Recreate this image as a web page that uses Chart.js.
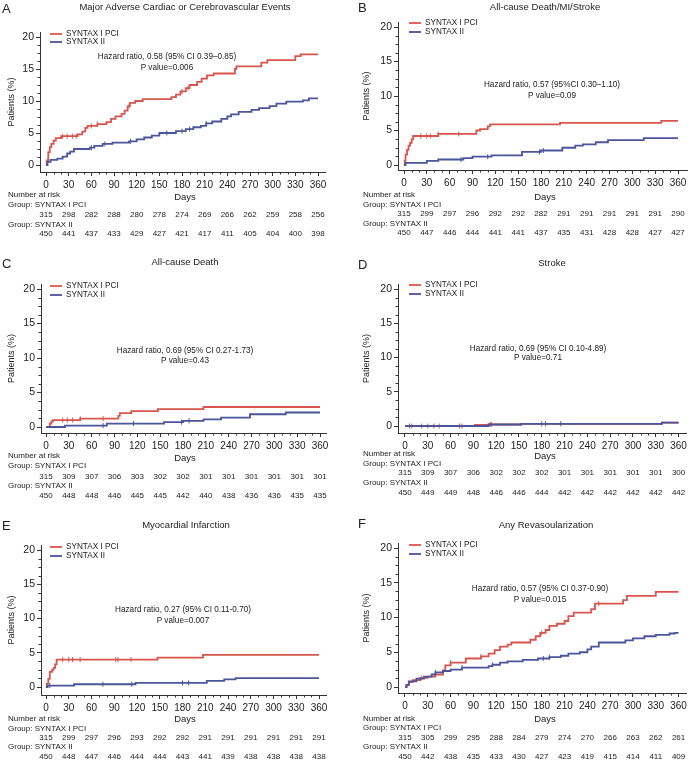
<!DOCTYPE html>
<html lang="en">
<head>
<meta charset="UTF-8">
<title>SYNTAX I PCI vs SYNTAX II - one-year outcomes</title>
<script src="https://cdn.jsdelivr.net/npm/chart.js"></script>
<style>
  body { margin: 0; background: #fff; font-family: 'Liberation Sans', Arial, sans-serif; color: #222; }
  #page { position: relative; width: 690px; height: 763px; overflow: hidden; }
  .panel { position: absolute; width: 345px; }
  .panel canvas { position: absolute; left: 0; top: 0; }
  .t { position: absolute; white-space: nowrap; line-height: 1; }
  .c { transform: translate(-50%, -50%); }
  .l { transform: translateY(-50%); }
  .letter { font-size: 13px; }
  .title { font-size: 9.5px; }
  .hr, .leg { font-size: 8.2px; }
  .risk { font-size: 8px; }
  .days { font-size: 9.5px; }
  .legline { position: absolute; width: 12px; height: 0; border-top: 2px solid; }
</style>
</head>
<body>
<div id="page"></div>
<script>
  // x axis ticks (days) and y axis ticks (%)
  const dayTicks = [0, 30, 60, 90, 120, 150, 180, 210, 240, 270, 300, 330, 360];
  const pctTicks = [0, 5, 10, 15, 20];
  const groupNames = ['SYNTAX I PCI', 'SYNTAX II'];

  // cumulative event rate, [day, %] from that day on
  // A - MACCE
  const maccePci = [[0,0],[1,0.7],[3,2.0],[5,2.8],[7,3.3],[10,3.8],[13,4.2],[20,4.5],[42,4.8],[48,5.2],[52,5.8],[55,6.1],[68,6.4],[80,6.7],[86,7.2],[92,7.6],[100,8.0],[104,8.5],[108,9.2],[111,9.7],[118,10.0],[128,10.3],[166,10.6],[172,11.0],[178,11.5],[185,12.0],[190,12.5],[200,13.0],[206,13.5],[213,14.0],[222,14.3],[250,15.0],[252,15.4],[285,16.0],[293,16.4],[330,17.0],[337,17.3],[360,17.3]];
  const macceS2 = [[0,0],[2,0.5],[6,0.8],[15,1.0],[22,1.3],[28,1.8],[32,2.1],[37,2.5],[58,2.7],[64,3.0],[75,3.3],[88,3.5],[110,3.7],[120,4.0],[130,4.3],[140,4.6],[150,5.0],[172,5.3],[185,5.6],[195,5.9],[205,6.1],[212,6.5],[220,6.8],[232,7.2],[240,7.6],[245,7.9],[255,8.3],[272,8.6],[282,8.9],[296,9.2],[305,9.6],[318,9.9],[340,10.1],[348,10.4],[360,10.4]];
  const macceRiskPci = [315, 298, 282, 288, 280, 278, 274, 269, 266, 262, 259, 258, 256];
  const macceRiskS2 = [450, 441, 437, 433, 429, 427, 421, 417, 411, 405, 404, 400, 398];
  const macceCensorPci = [22, 28, 35, 40, 60, 68, 110, 180, 188];
  const macceCensorS2 = [60, 78, 112, 160, 180, 190, 212];

  // B - death/MI/stroke
  const dmsPci = [[0,0],[1,0.6],[2,1.5],[4,2.2],[6,2.8],[8,3.2],[10,3.7],[12,4.2],[45,4.5],[95,5.0],[100,5.2],[110,5.6],[113,5.9],[205,6.1],[338,6.4],[360,6.4]];
  const dmsS2 = [[0,0],[2,0.3],[30,0.6],[45,0.8],[78,1.0],[90,1.2],[115,1.4],[155,1.9],[180,2.1],[208,2.5],[225,2.8],[235,3.0],[252,3.3],[268,3.6],[315,3.9],[360,3.9]];
  const dmsRiskPci = [315, 299, 297, 296, 292, 292, 282, 291, 291, 291, 291, 291, 290];
  const dmsRiskS2 = [450, 447, 446, 444, 441, 441, 437, 435, 431, 428, 428, 427, 427];
  const dmsCensorPci = [22, 30, 35, 45, 72];
  const dmsCensorS2 = [75, 110, 178, 183];

  // C - all-cause death
  const deathPci = [[0,0],[5,0.5],[7,0.8],[9,1.0],[45,1.2],[95,1.6],[97,2.0],[112,2.3],[147,2.6],[207,2.9],[360,2.9]];
  const deathS2 = [[0,0],[25,0.2],[80,0.5],[155,0.7],[180,0.9],[207,1.1],[230,1.35],[268,1.85],[315,2.1],[360,2.1]];
  const deathRiskPci = [315, 309, 307, 306, 303, 302, 302, 301, 301, 301, 301, 301, 301];
  const deathRiskS2 = [450, 448, 448, 446, 445, 445, 442, 440, 438, 436, 436, 435, 435];
  const deathCensorPci = [22, 28, 35, 45, 75];
  const deathCensorS2 = [75, 115, 178, 188];

  // D - stroke
  const strokePci = [[0,0],[92,0.15],[110,0.22],[153,0.32],[338,0.5],[360,0.5]];
  const strokeS2 = [[0,0],[110,0.22],[153,0.32],[338,0.5],[360,0.5]];
  const strokeRiskPci = [315, 309, 307, 306, 302, 302, 302, 301, 301, 301, 301, 301, 300];
  const strokeRiskS2 = [450, 449, 449, 448, 446, 446, 444, 442, 442, 442, 442, 442, 442];
  const strokeCensorPci = [6, 9, 22, 30, 38, 45, 72, 75, 112, 114];
  const strokeCensorS2 = [180, 185, 205];

  // E - myocardial infarction
  const miPci = [[0,0],[1,0.5],[3,1.2],[5,2.2],[8,2.5],[10,2.8],[12,3.3],[14,4.0],[147,4.3],[207,4.7],[360,4.7]];
  const miS2 = [[0,0],[2,0.2],[37,0.4],[118,0.6],[212,0.9],[235,1.1],[250,1.3],[360,1.3]];
  const miRiskPci = [315, 299, 297, 296, 293, 292, 292, 291, 291, 291, 291, 291, 291];
  const miRiskS2 = [450, 448, 447, 446, 444, 444, 443, 441, 439, 438, 438, 438, 438];
  const miCensorPci = [22, 30, 35, 45, 92, 95, 112];
  const miCensorS2 = [5, 75, 113, 180, 188];

  // F - any revascularization
  const revascPci = [[0,0],[2,0.3],[5,0.7],[10,1.0],[20,1.3],[30,1.5],[40,1.8],[50,2.4],[53,3.1],[60,3.5],[80,4.1],[100,4.4],[110,4.8],[118,5.3],[125,5.8],[135,6.1],[140,6.4],[165,6.8],[172,7.3],[178,7.8],[185,8.2],[190,8.8],[200,9.1],[210,9.5],[215,10.2],[222,10.7],[245,11.2],[250,12.0],[287,12.5],[292,13.1],[330,13.7],[360,13.7]];
  const revascS2 = [[0,0],[2,0.3],[5,0.8],[15,1.2],[25,1.5],[35,1.8],[40,2.1],[50,2.3],[60,2.5],[75,2.8],[110,3.0],[115,3.2],[125,3.5],[135,3.7],[155,3.9],[175,4.1],[190,4.3],[205,4.5],[215,4.8],[230,5.0],[240,5.4],[245,5.8],[255,6.4],[290,6.7],[300,7.0],[315,7.3],[330,7.5],[348,7.7],[355,7.8],[360,7.8]];
  const revascRiskPci = [315, 305, 299, 295, 288, 284, 279, 274, 270, 266, 263, 262, 261];
  const revascRiskS2 = [450, 442, 438, 435, 433, 430, 427, 423, 419, 415, 414, 411, 409];
  const revascCensorPci = [22, 60, 100, 180, 255];
  const revascCensorS2 = [40, 75, 115, 182, 190];

  const RED = '#d6554c';
  const BLUE = '#4b5599';

  // panel placement (page px) and local layout
  const panels = [
    { letter: 'A', title: 'Major Adverse Cardiac or Cerebrovascular Events', hr: 'Hazard ratio, 0.58 (95% CI 0.39\u20130.85)', p: 'P value=0.006',
      pci: maccePci, s2: macceS2, riskPci: macceRiskPci, riskS2: macceRiskS2, cPci: macceCensorPci, cS2: macceCensorS2,
      left: 0, top: 0, h: 254,
      L: { ax: 40, px0: 46, px360: 318, right: 325, top: 32, py20: 37, py0: 165, axisY: 172, yTitleX: 12,
           letter: [2, 8], titleC: [185, 7], leg: [50, 34, 42], hr: [167, 57, 68], days: [185, 197], nar: [8, 195, 205, 215, 225, 234] } },
    { letter: 'B', title: 'All-cause Death/MI/Stroke', hr: 'Hazard ratio, 0.57 (95%CI 0.30\u20131.10)', p: 'P value=0.09',
      pci: dmsPci, s2: dmsS2, riskPci: dmsRiskPci, riskS2: dmsRiskS2, cPci: dmsCensorPci, cS2: dmsCensorS2,
      left: 345, top: 0, h: 254,
      L: { ax: 53, px0: 59, px360: 333, right: 342, top: 22, py20: 27, py0: 165, axisY: 170, yTitleX: 22,
           letter: [13, 7], titleC: [200, 7], leg: [64, 23, 32], hr: [207, 85, 96], days: [200, 197], nar: [18, 195, 205, 214, 224, 233] } },
    { letter: 'C', title: 'All-cause Death', hr: 'Hazard ratio, 0.69 (95% CI 0.27-1.73)', p: 'P value=0.43',
      pci: deathPci, s2: deathS2, riskPci: deathRiskPci, riskS2: deathRiskS2, cPci: deathCensorPci, cS2: deathCensorS2,
      left: 0, top: 254, h: 254,
      L: { ax: 41, px0: 46, px360: 320, right: 326, top: 30, py20: 35, py0: 173, axisY: 179, yTitleX: 12,
           letter: [2, 9], titleC: [185, 8], leg: [50, 32, 41], hr: [185, 97, 107], days: [185, 204], nar: [8, 202, 212, 223, 232, 242] } },
    { letter: 'D', title: 'Stroke', hr: 'Hazard ratio, 0.69 (95% CI 0.10-4.89)', p: 'P value=0.71',
      pci: strokePci, s2: strokeS2, riskPci: strokeRiskPci, riskS2: strokeRiskS2, cPci: strokeCensorPci, cS2: strokeCensorS2,
      left: 345, top: 254, h: 254,
      L: { ax: 53, px0: 60, px360: 334, right: 342, top: 30, py20: 35, py0: 172, axisY: 179, yTitleX: 22,
           letter: [13, 10], titleC: [207, 9], leg: [64, 31, 40], hr: [193, 95, 104], days: [200, 202], nar: [18, 200, 210, 219, 229, 239] } },
    { letter: 'E', title: 'Myocardial Infarction', hr: 'Hazard ratio, 0.27 (95% CI 0.11-0.70)', p: 'P value=0.007',
      pci: miPci, s2: miS2, riskPci: miRiskPci, riskS2: miRiskS2, cPci: miCensorPci, cS2: miCensorS2,
      left: 0, top: 508, h: 255,
      L: { ax: 41, px0: 46, px360: 319, right: 326, top: 37, py20: 42, py0: 179, axisY: 187, yTitleX: 12,
           letter: [2, 17], titleC: [186, 17], leg: [50, 39, 48], hr: [183, 102, 113], days: [185, 211], nar: [8, 211, 221, 230, 239, 249] } },
    { letter: 'F', title: 'Any Revasoularization', hr: 'Hazard ratio, 0.57 (95% CI 0.37-0.90)', p: 'P value=0.015',
      pci: revascPci, s2: revascS2, riskPci: revascRiskPci, riskS2: revascRiskS2, cPci: revascCensorPci, cS2: revascCensorS2,
      left: 345, top: 508, h: 255,
      L: { ax: 53, px0: 60, px360: 334, right: 342, top: 35, py20: 40, py0: 179, axisY: 185, yTitleX: 22,
           letter: [13, 15], titleC: [201, 17], leg: [64, 37, 46], hr: [195, 81, 92], days: [200, 211], nar: [18, 211, 220, 230, 239, 249] } }
  ];

  // level of a step curve on a given day (for censoring marks)
  function levelAt(steps, day) {
    let v = 0;
    for (const [d, y] of steps) if (d <= day) v = y;
    return v;
  }

  // small ticks between the labelled ones
  const minorTicks = {
    id: 'minorTicks',
    afterDraw(chart) {
      const { ctx, scales: { x, y } } = chart;
      ctx.save();
      ctx.strokeStyle = '#333';
      ctx.lineWidth = 1;
      ctx.beginPath();
      for (let d = 10; d < 360; d += 10) {
        if (d % 30 === 0) continue;
        const px = Math.round(x.getPixelForValue(d)) + 0.5;
        ctx.moveTo(px, y.bottom);
        ctx.lineTo(px, y.bottom + 2.5);
      }
      for (let v = 1.25; v < 20; v += 1.25) {
        if (v % 5 === 0) continue;
        const py = Math.round(y.getPixelForValue(v)) + 0.5;
        ctx.moveTo(x.left, py);
        ctx.lineTo(x.left - 2.5, py);
      }
      ctx.stroke();
      ctx.restore();
    }
  };

  const page = document.getElementById('page');

  function put(parent, text, x, y, cls) {
    const d = document.createElement('div');
    d.className = 't ' + cls;
    d.style.left = x + 'px';
    d.style.top = y + 'px';
    d.textContent = text;
    parent.appendChild(d);
    return d;
  }

  function makePanel(p) {
    const L = p.L;
    const el = document.createElement('div');
    el.className = 'panel';
    el.style.left = p.left + 'px';
    el.style.top = p.top + 'px';
    el.style.height = p.h + 'px';
    page.appendChild(el);

    const cv = document.createElement('canvas');
    cv.width = 345; cv.height = p.h;
    cv.style.width = '345px'; cv.style.height = p.h + 'px';
    el.appendChild(cv);

    const k = (L.px360 - L.px0) / 360;
    const m = (L.py0 - L.py20) / 20;

    const line = (steps, color, label) => ({
      label: label,
      data: steps.map(([x, y]) => ({ x: x, y: y })),
      borderColor: color,
      borderWidth: 1.8,
      stepped: 'before',
      pointRadius: 0,
      fill: false
    });
    const censor = (days, steps, color) => ({
      data: days.map(d => ({ x: d, y: levelAt(steps, d) })),
      showLine: false,
      pointStyle: 'line',
      rotation: 90,
      pointRadius: 2.5,
      pointBorderWidth: 1,
      pointBorderColor: color,
      borderColor: color
    });

    const chart = new Chart(cv, {
      type: 'line',
      data: {
        datasets: [
          line(p.s2, BLUE, groupNames[1]),
          censor(p.cS2, p.s2, BLUE),
          line(p.pci, RED, groupNames[0]),
          censor(p.cPci, p.pci, RED)
        ]
      },
      options: {
        responsive: false,
        animation: false,
        events: [],
        layout: { autoPadding: false, padding: { left: 0, top: L.top, right: 345 - L.right, bottom: 0 } },
        plugins: { legend: { display: false }, tooltip: { enabled: false } },
        scales: {
          x: {
            type: 'linear',
            min: -(L.px0 - L.ax) / k,
            max: 360 + (L.right - L.px360) / k,
            afterFit: s => { s.height = p.h - L.axisY; },
            afterBuildTicks: s => { s.ticks = dayTicks.map(v => ({ value: v })); },
            grid: { drawOnChartArea: false, tickLength: 4, color: '#333' },
            border: { color: '#333', width: 1 },
            ticks: { autoSkip: false, maxRotation: 0, padding: 3, color: '#222',
                     font: { family: "'Liberation Sans', Arial, sans-serif", size: 10 } }
          },
          y: {
            type: 'linear',
            min: -(L.axisY - L.py0) / m,
            max: 20 + (L.py20 - L.top) / m,
            afterFit: s => { s.width = L.ax; },
            afterBuildTicks: s => { s.ticks = pctTicks.map(v => ({ value: v })); },
            grid: { drawOnChartArea: false, tickLength: 4, color: '#333' },
            border: { color: '#333', width: 1 },
            ticks: { padding: 2, color: '#222',
                     font: { family: "'Liberation Sans', Arial, sans-serif", size: 10.5 } },
            title: { display: true, text: 'Patients (%)', color: '#222',
                     padding: { top: L.yTitleX - 5.4, bottom: 0 },
                     font: { family: "'Liberation Sans', Arial, sans-serif", size: 9 } }
          }
        }
      },
      plugins: [minorTicks]
    });

    // texts
    put(el, p.letter, L.letter[0], L.letter[1], 'l letter');
    put(el, p.title, L.titleC[0], L.titleC[1], 'c title');

    const lg1 = document.createElement('div');
    lg1.className = 'legline';
    lg1.style.left = L.leg[0] + 'px'; lg1.style.top = (L.leg[1] - 1) + 'px'; lg1.style.borderColor = '#e0675e';
    el.appendChild(lg1);
    const lg2 = document.createElement('div');
    lg2.className = 'legline';
    lg2.style.left = L.leg[0] + 'px'; lg2.style.top = (L.leg[2] - 1) + 'px'; lg2.style.borderColor = '#5a64a4';
    el.appendChild(lg2);
    put(el, groupNames[0], L.leg[0] + 16, L.leg[1], 'l leg');
    put(el, groupNames[1], L.leg[0] + 16, L.leg[2], 'l leg');

    put(el, p.hr, L.hr[0], L.hr[1], 'c hr');
    put(el, p.p, L.hr[0], L.hr[2], 'c hr');

    put(el, 'Days', L.days[0], L.days[1], 'c days');

    // number at risk table, aligned on the x scale
    put(el, 'Number at risk', L.nar[0], L.nar[1], 'l risk');
    put(el, 'Group: ' + groupNames[0], L.nar[0], L.nar[2], 'l risk');
    put(el, 'Group: ' + groupNames[1], L.nar[0], L.nar[4], 'l risk');
    const xs = chart.scales.x;
    dayTicks.forEach((d, i) => {
      const px = xs.getPixelForValue(d);
      put(el, String(p.riskPci[i]), px, L.nar[3], 'c risk');
      put(el, String(p.riskS2[i]), px, L.nar[5], 'c risk');
    });
  }

  panels.forEach(makePanel);
</script>
</body>
</html>
